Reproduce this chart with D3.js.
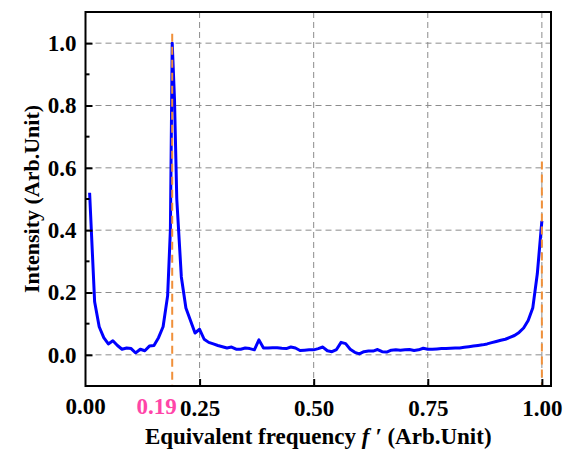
<!DOCTYPE html>
<html>
<head>
<meta charset="utf-8">
<script src="https://cdn.jsdelivr.net/npm/d3@7"></script>
<style>
  body { margin: 0; background: #fff; }
  text { font-family: "Liberation Serif", "Times New Roman", serif; font-weight: bold; }
</style>
</head>
<body>
<div id="chart"></div>
<script>
// spectrum
const freq = [
  0.009, 0.02, 0.03, 0.04, 0.05, 0.06, 0.07, 0.08, 0.09, 0.10,
  0.11, 0.12, 0.13, 0.14, 0.15, 0.16, 0.17, 0.18, 0.186, 0.19, 0.195,
  0.20, 0.21, 0.22, 0.23, 0.24, 0.25, 0.26, 0.27, 0.28, 0.29,
  0.30, 0.31, 0.32, 0.33, 0.34, 0.35, 0.36, 0.37, 0.38, 0.39,
  0.40, 0.41, 0.42, 0.43, 0.44, 0.45, 0.46, 0.47, 0.48, 0.49,
  0.50, 0.51, 0.52, 0.53, 0.54, 0.55, 0.56, 0.57, 0.58, 0.59,
  0.60, 0.61, 0.62, 0.63, 0.64, 0.65, 0.66, 0.67, 0.68, 0.69,
  0.70, 0.71, 0.72, 0.73, 0.74, 0.75, 0.76, 0.77, 0.78, 0.79,
  0.80, 0.81, 0.82, 0.83, 0.84, 0.85, 0.86, 0.87, 0.88, 0.89,
  0.90, 0.91, 0.92, 0.93, 0.94, 0.95, 0.96, 0.97, 0.98, 0.99,
  1.00
];
const intensity = [
  0.52, 0.17, 0.09, 0.055, 0.035, 0.045, 0.03, 0.018, 0.022, 0.02,
  0.006, 0.018, 0.013, 0.028, 0.03, 0.055, 0.09, 0.19, 0.40, 1.00, 0.82,
  0.50, 0.25, 0.15, 0.11, 0.07, 0.082, 0.05, 0.04, 0.035, 0.03,
  0.026, 0.022, 0.025, 0.018, 0.018, 0.022, 0.02, 0.016, 0.048, 0.022,
  0.022, 0.023, 0.023, 0.021, 0.02, 0.025, 0.022, 0.014, 0.015, 0.016,
  0.016, 0.02, 0.025, 0.013, 0.01, 0.017, 0.04, 0.036, 0.018, 0.008,
  0.003, 0.01, 0.012, 0.012, 0.017, 0.01, 0.009, 0.015, 0.016, 0.015,
  0.016, 0.017, 0.014, 0.016, 0.021, 0.018, 0.018, 0.019, 0.02, 0.02,
  0.021, 0.022, 0.022, 0.024, 0.026, 0.028, 0.03, 0.032, 0.035, 0.039,
  0.043, 0.047, 0.05, 0.056, 0.062, 0.072, 0.086, 0.11, 0.15, 0.26,
  0.43
];

// orange markers: position and top end of each dashed line
const markerFreq = [0.19, 1.00];
const markerTop = [1.03, 0.62];

const xTicks = [0.25, 0.50, 0.75, 1.00];
const xTickLabels = ["0.25", "0.50", "0.75", "1.00"];
const yTicks = [0.0, 0.2, 0.4, 0.6, 0.8, 1.0];
const yMinorTicks = [0.1, 0.3, 0.5, 0.7, 0.9];
const peakLabel = "0.19";

const width = 573, height = 450;
const margin = { top: 12, right: 22, bottom: 64, left: 85.5 };
const innerW = width - margin.left - margin.right;
const innerH = height - margin.top - margin.bottom;
const tickFont = 23;

const svg = d3.select("#chart").append("svg")
  .attr("width", width)
  .attr("height", height);

const g = svg.append("g")
  .attr("transform", `translate(${margin.left},${margin.top})`);

const x = d3.scaleLinear().domain([0, 1.02]).range([0, innerW]);
const y = d3.scaleLinear().domain([-0.1, 1.1]).range([innerH, 0]);

// grid
g.selectAll(".hgrid").data(yTicks).enter().append("line")
  .attr("x1", 0).attr("x2", innerW)
  .attr("y1", d => y(d)).attr("y2", d => y(d))
  .attr("stroke", "#8c8c8c").attr("stroke-width", 1)
  .attr("stroke-dasharray", "6,4");

g.selectAll(".vgrid").data(xTicks).enter().append("line")
  .attr("x1", d => x(d)).attr("x2", d => x(d))
  .attr("y1", 0).attr("y2", innerH)
  .attr("stroke", "#8c8c8c").attr("stroke-width", 1)
  .attr("stroke-dasharray", "6,4");

// spectrum
const pts = freq.map((f, i) => [f, intensity[i]]);
const line = d3.line().x(d => x(d[0])).y(d => y(d[1]));
g.append("path")
  .datum(pts)
  .attr("d", line)
  .attr("fill", "none")
  .attr("stroke", "#0000ff")
  .attr("stroke-width", 3)
  .attr("stroke-linejoin", "round");

// orange dashed markers, drawn over the curve
g.selectAll(".marker").data(markerFreq).enter().append("line")
  .attr("x1", d => x(d)).attr("x2", d => x(d))
  .attr("y1", (d, i) => y(markerTop[i])).attr("y2", innerH)
  .attr("stroke", "#f0903a").attr("stroke-width", 2)
  .attr("stroke-dasharray", "8,5");

// axes with inward ticks
const xAxis = g.append("g")
  .attr("transform", `translate(0,${innerH})`)
  .call(d3.axisBottom(x).tickValues(xTicks).tickSize(-7).tickPadding(14)
    .tickFormat((d, i) => xTickLabels[i]));
xAxis.select(".domain").remove();
xAxis.selectAll(".tick line").attr("stroke", "#000").attr("stroke-width", 2);
xAxis.selectAll("text").attr("font-size", tickFont).attr("fill", "#000")
  .style("font-family", "'Liberation Serif', serif").style("font-weight", "bold");

// 0.00 label at origin
xAxis.append("text")
  .attr("x", x(0)).attr("y", 28)
  .attr("text-anchor", "middle")
  .attr("font-size", tickFont).attr("fill", "#000")
  .text("0.00");

const yAxis = g.append("g")
  .call(d3.axisLeft(y).tickValues(yTicks).tickSize(-7).tickPadding(9)
    .tickFormat(d3.format(".1f")));
yAxis.select(".domain").remove();
yAxis.selectAll(".tick line").attr("stroke", "#000").attr("stroke-width", 2);
yAxis.selectAll("text").attr("font-size", tickFont).attr("fill", "#000")
  .style("font-family", "'Liberation Serif', serif").style("font-weight", "bold");

g.selectAll(".yminor").data(yMinorTicks).enter().append("line")
  .attr("x1", 0).attr("x2", 4)
  .attr("y1", d => y(d)).attr("y2", d => y(d))
  .attr("stroke", "#000").attr("stroke-width", 2);

// frame
g.append("rect")
  .attr("x", 0).attr("y", 0)
  .attr("width", innerW).attr("height", innerH)
  .attr("fill", "none")
  .attr("stroke", "#000").attr("stroke-width", 2);

// pink peak label
g.append("text")
  .attr("x", x(0.2)).attr("y", innerH + 28)
  .attr("text-anchor", "end")
  .attr("font-size", tickFont).attr("fill", "#ff45a8")
  .text(peakLabel);

// axis titles
const xTitle = svg.append("text")
  .attr("x", margin.left + innerW / 2).attr("y", 444)
  .attr("text-anchor", "middle")
  .attr("font-size", 23).attr("fill", "#000");
xTitle.append("tspan").text("Equivalent frequency ");
xTitle.append("tspan").attr("font-style", "italic").text("f ′");
xTitle.append("tspan").text(" (Arb.Unit)");

svg.append("text")
  .attr("transform", `translate(39,${margin.top + innerH / 2}) rotate(-90)`)
  .attr("text-anchor", "middle")
  .attr("font-size", 22).attr("fill", "#000")
  .text("Intensity (Arb.Unit)");
</script>
</body>
</html>
